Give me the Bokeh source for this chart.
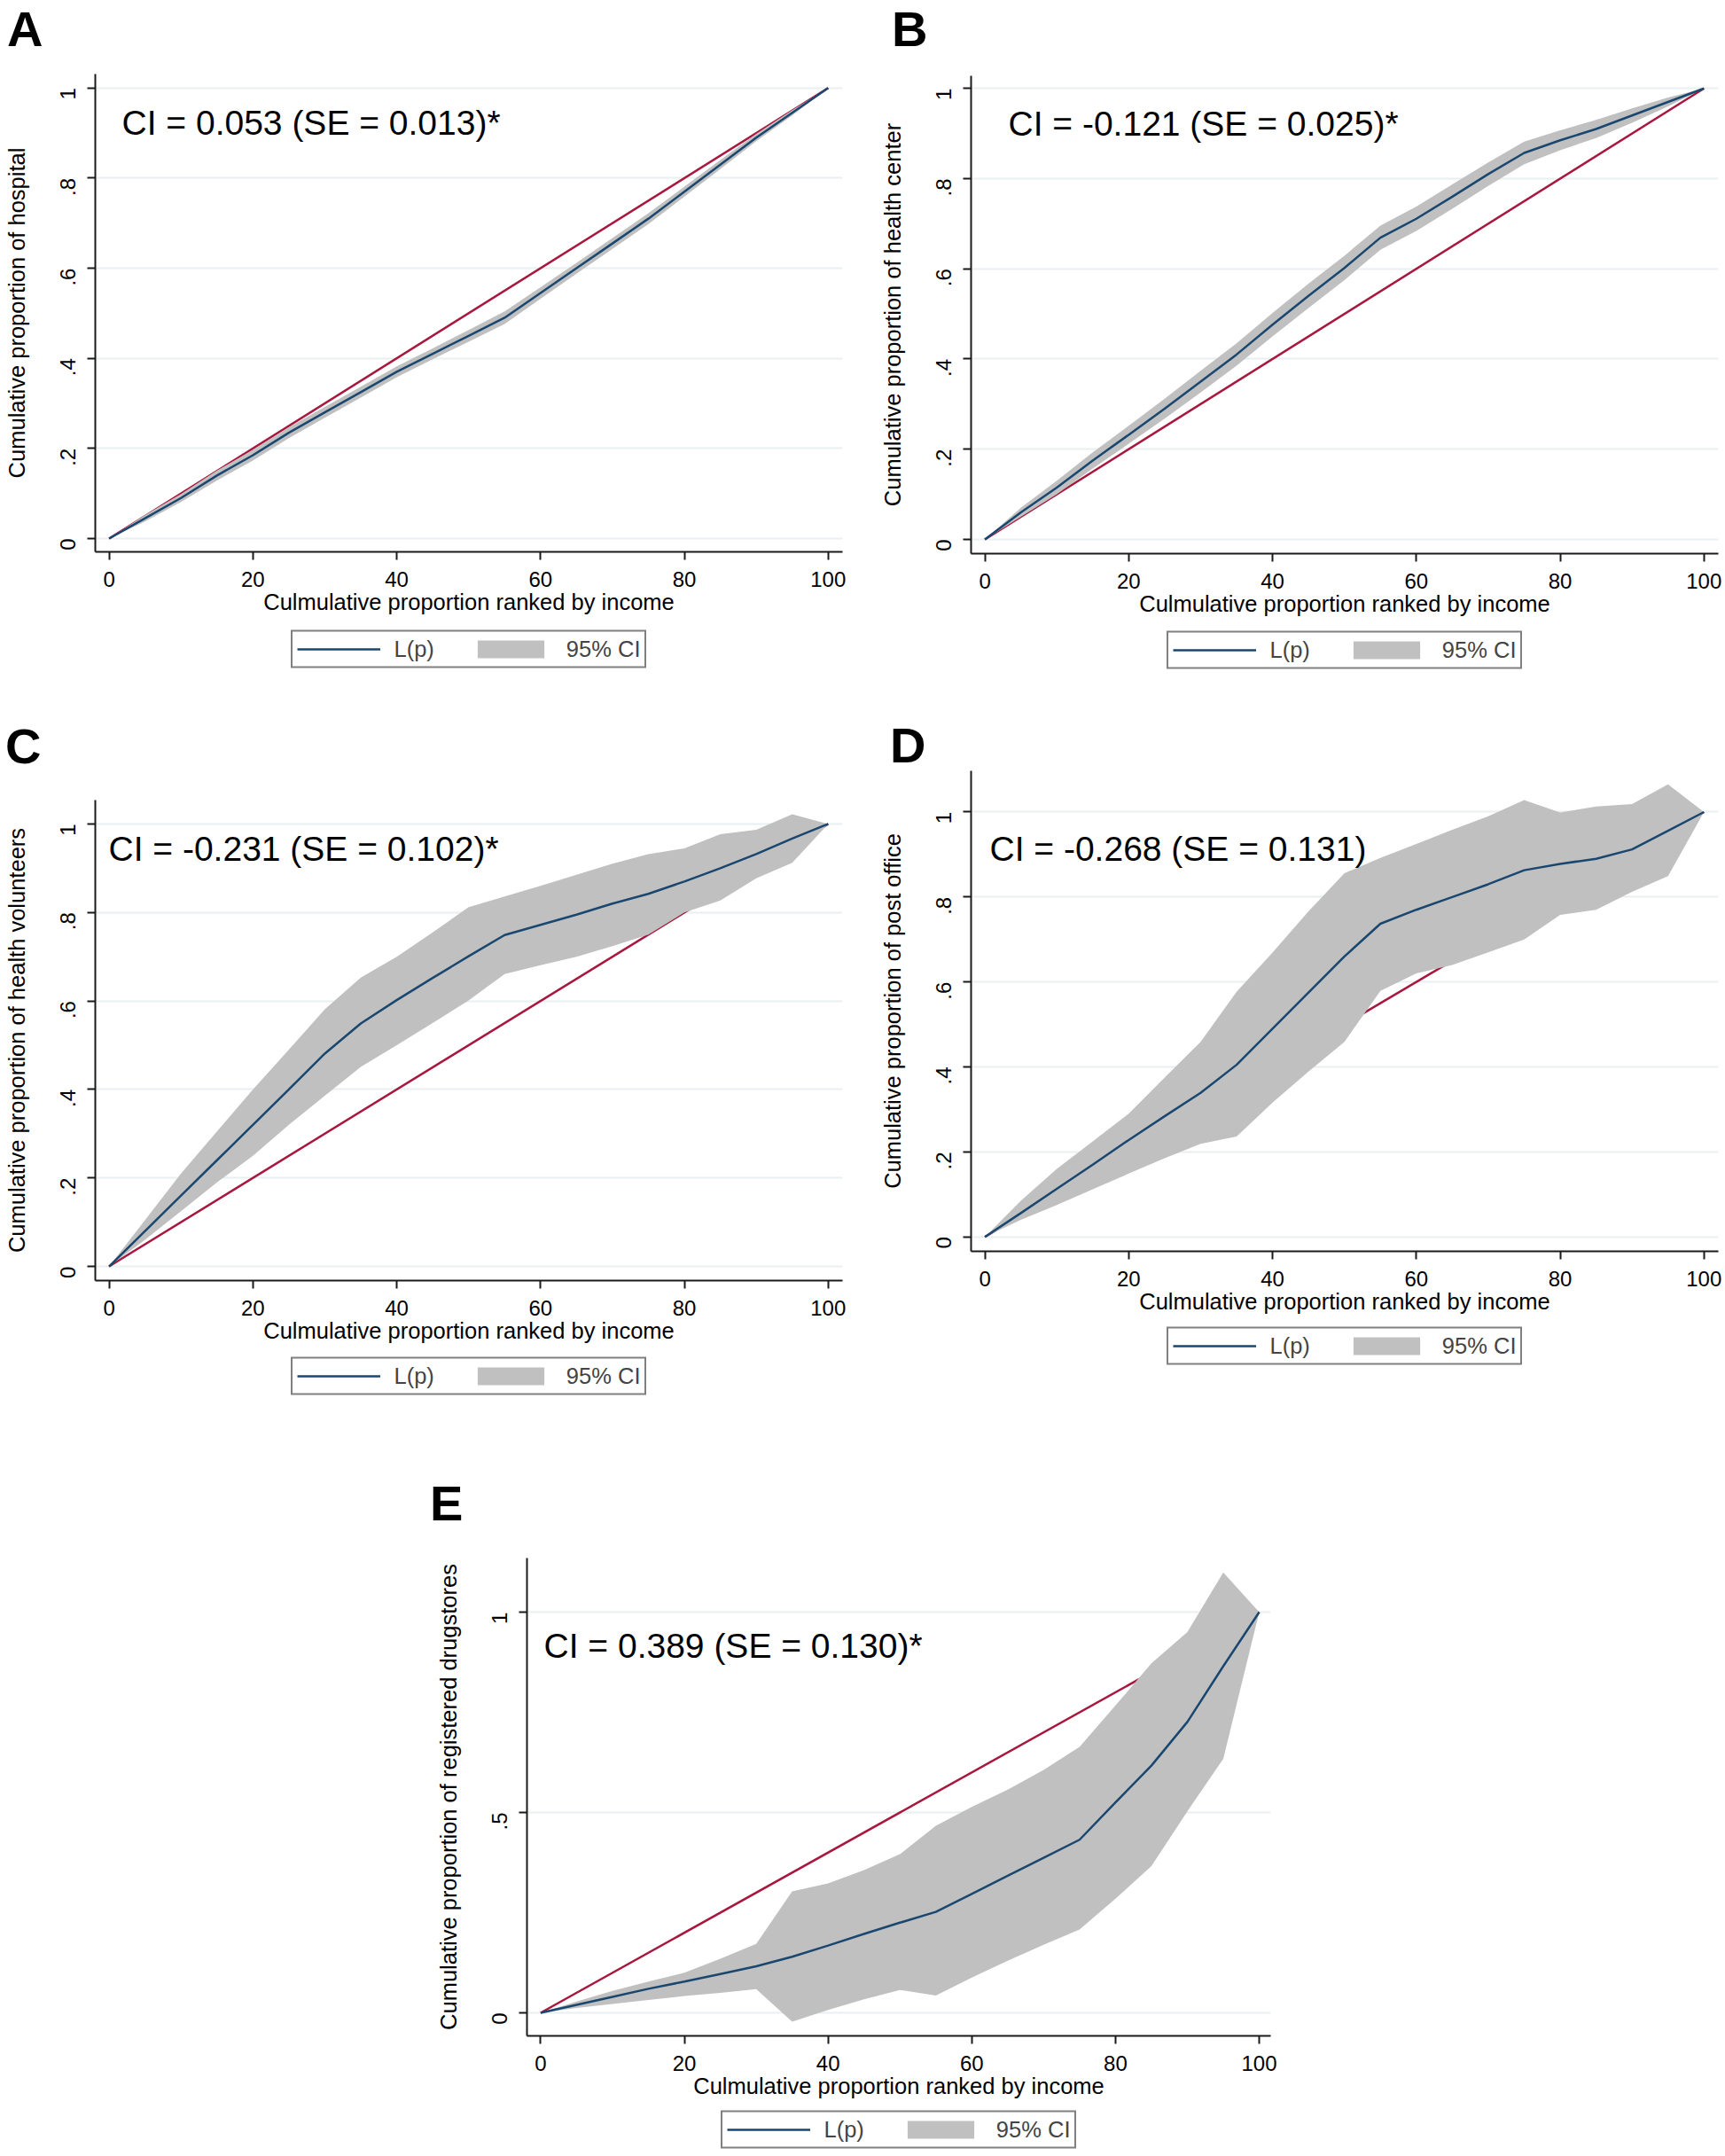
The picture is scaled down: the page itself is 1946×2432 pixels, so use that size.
import math
from bokeh.plotting import figure
from bokeh.models import Range1d, FixedTicker, Legend, LegendItem, Label, Div
from bokeh.layouts import column, row
from bokeh.embed import file_html
from bokeh.resources import INLINE

# ---------------- data ----------------
pct = [0, 5, 10, 15, 20, 25, 30, 35, 40, 45, 50, 55, 60, 65, 70, 75, 80, 85, 90, 95, 100]
equality_x = [0, 100]
equality_y = [0, 1]

# A: hospital
a_L = [0, .045, .09, .14, .185, .235, .28, .325, .37, .41, .45, .49, .545, .60, .655, .71, .77, .83, .89, .945, 1]
a_hw = [0, .007, .009, .011, .012, .012, .012, .012, .012, .012, .013, .014, .013, .012, .012, .012, .011, .010, .008, .006, 0]
a_lo = [l - h for l, h in zip(a_L, a_hw)]
a_hi = [l + h for l, h in zip(a_L, a_hw)]

# B: health center
b_L = [0, .06, .115, .175, .232, .29, .35, .41, .476, .54, .602, .669, .711, .76, .81, .857, .885, .91, .94, .97, 1]
b_hw = [0, .010, .015, .018, .020, .022, .024, .025, .026, .027, .027, .027, .027, .027, .026, .025, .022, .020, .016, .010, 0]
b_lo = [l - h for l, h in zip(b_L, b_hw)]
b_hi = [l + h for l, h in zip(b_L, b_hw)]

# C: health volunteers
c_L = [0, .08, .16, .24, .32, .40, .481, .549, .602, .652, .701, .749, .772, .795, .82, .842, .87, .90, .932, .967, 1]
c_hi = [0, .105, .21, .305, .40, .49, .581, .653, .70, .755, .812, .836, .86, .885, .91, .932, .945, .977, .987, 1.022, 1]
c_lo = [0, .06, .125, .19, .25, .32, .386, .451, .50, .55, .601, .661, .681, .70, .724, .75, .80, .827, .877, .912, 1]

# D: post office
d_L = [0, .056, .113, .17, .228, .284, .339, .405, .49, .575, .66, .737, .77, .80, .83, .863, .878, .89, .912, .956, 1]
d_hi = [0, .085, .16, .225, .29, .375, .459, .577, .669, .766, .856, .892, .925, .958, .99, 1.028, .999, 1.013, 1.019, 1.065, 1]
d_lo = [0, .04, .075, .112, .149, .185, .219, .236, .316, .389, .459, .579, .62, .64, .67, .70, .758, .77, .812, .849, 1]

# E: registered drugstores
e_L = [0, .02, .04, .06, .078, .097, .116, .14, .168, .197, .225, .252, .297, .342, .387, .432, .525, .617, .726, .865, 1]
e_hi = [0, .028, .055, .078, .10, .135, .172, .303, .323, .356, .396, .467, .514, .557, .606, .664, .767, .872, .95, 1.099, 1]
e_lo = [0, .012, .022, .032, .042, .05, .059, -.022, .007, .034, .057, .043, .088, .13, .17, .208, .285, .366, .503, .634, 1]

x_ticks = [0, 20, 40, 60, 80, 100]
y_ticks_ad = [0, 0.2, 0.4, 0.6, 0.8, 1]
y_labels_ad = ["0", ".2", ".4", ".6", ".8", "1"]
y_ticks_e = [0, 0.5, 1]
y_labels_e = ["0", ".5", "1"]

x_title = "Culmulative proportion ranked by income"
legend_labels = ["L(p)", "95% CI"]

# ---------------- style ----------------
FONT = "Liberation Sans"
NAVY = "#1a476f"
RED = "#a8173e"
GREY = "#c0c0c0"
GRID = "#e8f0f2"
AXIS = "#1a1a1a"


def page_to_data(px, py, g):
    fx0 = g["ox"] + g["l"]
    fy0 = g["oy"] + g["t"]
    fw = g["w"] - g["l"] - g["r"]
    fh = g["h"] - g["t"] - g["b"]
    xs, xe = g["xr"]
    ys, ye = g["yr"]
    return xs + (px - fx0) / fw * (xe - xs), ye - (py - fy0) / fh * (ye - ys)


def make_panel(g, letter, ylab, ci_text, L, lo, hi, yt, yl, ci_pos):
    lx, lbase = g["letter"]
    top = max(0.0, lbase - 43.4)  # baseline offset inside a 48px line box
    hdr = Div(text=('<div style="position:relative; left:%dpx; top:%.1fpx; '
                    'font-family:\'Liberation Sans\'; font-size:56px; line-height:48px; '
                    'font-weight:bold; color:#000; white-space:nowrap; margin:0; padding:0;">%s</div>')
              % (lx, top, letter),
              width=g["w"], height=g["hh"], margin=0)

    p = figure(width=g["w"], height=g["h"], output_backend="svg", toolbar_location=None,
               x_range=Range1d(*g["xr"]), y_range=Range1d(*g["yr"]),
               min_border_left=g["l"], min_border_right=g["r"],
               min_border_top=g["t"], min_border_bottom=g["b"],
               background_fill_color="white", border_fill_color="white")
    p.outline_line_color = None
    p.xgrid.visible = False
    p.ygrid.grid_line_color = GRID
    p.ygrid.grid_line_width = 2
    p.ygrid.ticker = FixedTicker(ticks=yt)

    p.xaxis.ticker = FixedTicker(ticks=x_ticks)
    p.yaxis.ticker = FixedTicker(ticks=yt)
    p.yaxis.major_label_overrides = {t: s for t, s in zip(yt, yl)}
    p.yaxis.major_label_orientation = math.pi / 2
    for ax in (p.xaxis, p.yaxis):
        ax.axis_line_color = AXIS
        ax.axis_line_width = 2
        ax.major_tick_line_color = AXIS
        ax.major_tick_line_width = 2
        ax.major_tick_out = 9
        ax.major_tick_in = 0
        ax.minor_tick_line_color = None
        ax.major_label_text_font = FONT
        ax.major_label_text_font_size = "24px"
        ax.major_label_text_color = "black"
        ax.axis_label_text_font = FONT
        ax.axis_label_text_font_size = "25.5px"
        ax.axis_label_text_font_style = "normal"
        ax.axis_label_text_color = "black"
    p.xaxis.major_label_standoff = 13
    p.xaxis.axis_label_standoff = 0
    p.yaxis.major_label_standoff = 22
    p.yaxis.axis_label_standoff = 24
    p.xaxis.axis_label = x_title
    p.yaxis.axis_label = ylab

    p.line(equality_x, equality_y, line_color=RED, line_width=2.5)
    p.varea(x=pct, y1=lo, y2=hi, fill_color=GREY, fill_alpha=1.0)
    p.line(pct, L, line_color=NAVY, line_width=2.5)

    cx, cy = page_to_data(ci_pos[0], ci_pos[1], g)
    p.add_layout(Label(x=cx, y=cy, text=ci_text, text_font=FONT, text_font_size="39px",
                       text_color="black", text_align="left", text_baseline="middle"))

    # legend strip under the plot (its glyph renderers sit outside the visible range)
    leg = figure(width=g["w"], height=g["lh"], output_backend="svg", toolbar_location=None,
                 x_range=Range1d(1000, 1001), y_range=Range1d(1000, 1001),
                 x_axis_location=None, y_axis_location=None,
                 min_border_left=g["l"], min_border_right=g["r"], min_border_top=0, min_border_bottom=0,
                 background_fill_color="white", border_fill_color="white")
    leg.outline_line_color = None
    leg.grid.visible = False
    lr = leg.line(pct, L, line_color=NAVY, line_width=2.5)
    br = leg.varea(x=pct, y1=lo, y2=hi, fill_color=GREY, fill_alpha=1.0)
    legend = Legend(items=[LegendItem(label=legend_labels[0], renderers=[lr]),
                           LegendItem(label=legend_labels[1], renderers=[br])],
                    orientation="horizontal", location="center",
                    border_line_color="black", border_line_width=2,
                    background_fill_color="white", background_fill_alpha=1.0,
                    padding=5, spacing=39, label_standoff=16,
                    glyph_width=94, glyph_height=25, label_height=25,
                    label_text_font=FONT, label_text_font_size="25.5px", margin=0)
    leg.add_layout(legend, "center")
    return column(hdr, p, leg, spacing=0)


XR = (-1.92, 102.0)
# page geometry (origin at the top-left of the page)
gA = dict(ox=0, oy=60, w=987, hh=60, letter=(8, 52), h=646, l=107, r=37, t=23, b=84, lh=52,
          xr=XR, yr=(-0.0295, 1.031))
gB = dict(ox=987, oy=60, w=959, hh=60, letter=(19, 52), h=648, l=108, r=8, t=25, b=84, lh=50,
          xr=XR, yr=(-0.0315, 1.028))
gC = dict(ox=0, oy=880, w=987, hh=120, letter=(6, 103), h=650, l=107, r=37, t=24, b=84, lh=48,
          xr=XR, yr=(-0.032, 1.054))
gD = dict(ox=987, oy=866, w=959, hh=106, letter=(17, 102), h=631, l=108, r=8, t=5, b=84, lh=46,
          xr=XR, yr=(-0.034, 1.097))
gE = dict(ox=0, oy=1730, w=1900, hh=150, letter=(485, 139), h=652, l=594, r=467, t=31, b=82, lh=48,
          xr=(-1.9, 101.6), yr=(-0.0575, 1.135))

colA = make_panel(gA, "A", "Cumulative proportion of hospital", "CI = 0.053 (SE = 0.013)*",
                  a_L, a_lo, a_hi, y_ticks_ad, y_labels_ad, (137, 138))
colB = make_panel(gB, "B", "Cumulative proportion of health center", "CI = -0.121 (SE = 0.025)*",
                  b_L, b_lo, b_hi, y_ticks_ad, y_labels_ad, (1137, 138.5))
colC = make_panel(gC, "C", "Cumulative proportion of health volunteers", "CI = -0.231 (SE = 0.102)*",
                  c_L, c_lo, c_hi, y_ticks_ad, y_labels_ad, (122, 958.5))
colD = make_panel(gD, "D", "Cumulative proportion of post office", "CI = -0.268 (SE = 0.131)",
                  d_L, d_lo, d_hi, y_ticks_ad, y_labels_ad, (1116, 958.7))
colE = make_panel(gE, "E", "Cumulative proportion of registered drugstores", "CI = 0.389 (SE = 0.130)*",
                  e_L, e_lo, e_hi, y_ticks_e, y_labels_e, (613, 1860))

layout = column(row(colA, colB, spacing=0), row(colC, colD, spacing=0), colE, spacing=0)
open("out.html", "w").write(file_html(layout, INLINE))
